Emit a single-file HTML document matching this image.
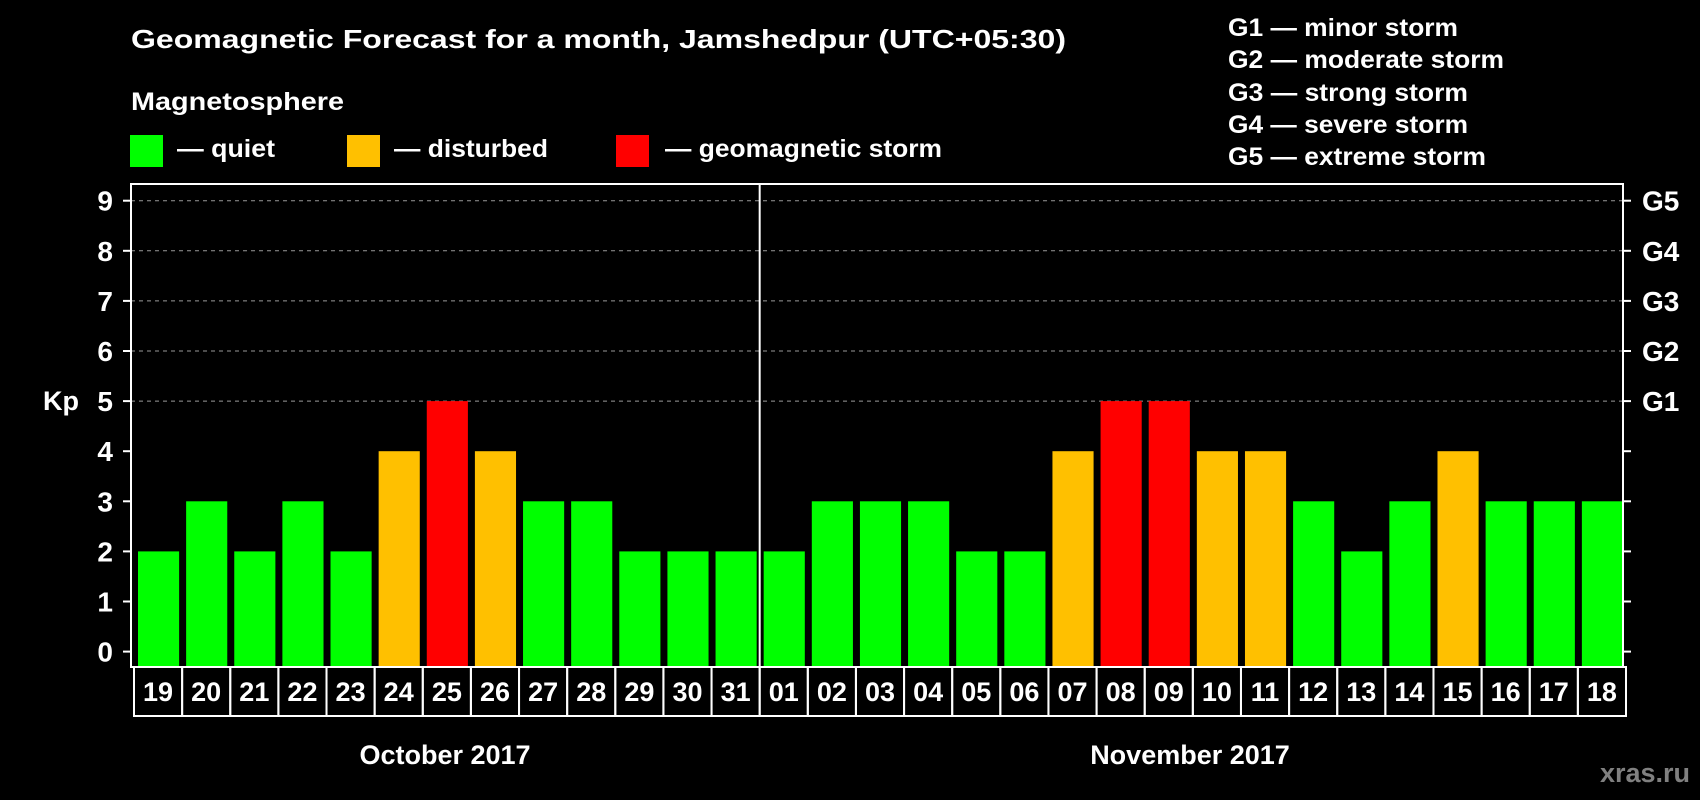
<!DOCTYPE html>
<html><head><meta charset="utf-8"><style>
html,body{margin:0;padding:0;background:#000;width:1700px;height:800px;overflow:hidden}
svg{display:block;font-family:"Liberation Sans",Arial,sans-serif;font-weight:bold}
</style></head><body>
<svg id="chart" width="1700" height="800" viewBox="0 0 1700 800" xmlns="http://www.w3.org/2000/svg">
<rect width="1700" height="800" fill="#000"/>
<text x="131" y="48" fill="#fff" font-size="26" textLength="935" lengthAdjust="spacingAndGlyphs">Geomagnetic Forecast for a month, Jamshedpur (UTC+05:30)</text>
<text x="131" y="110" fill="#fff" font-size="25" textLength="213" lengthAdjust="spacingAndGlyphs">Magnetosphere</text>
<g><rect x="130" y="135" width="33" height="32" fill="#00ff00"/><text x="177" y="157" fill="#fff" font-size="25" textLength="98" lengthAdjust="spacingAndGlyphs">— quiet</text></g>
<g><rect x="347" y="135" width="33" height="32" fill="#ffc000"/><text x="394" y="157" fill="#fff" font-size="25" textLength="154" lengthAdjust="spacingAndGlyphs">— disturbed</text></g>
<g><rect x="616" y="135" width="33" height="32" fill="#ff0000"/><text x="665" y="157" fill="#fff" font-size="25" textLength="277" lengthAdjust="spacingAndGlyphs">— geomagnetic storm</text></g>
<g fill="#fff" font-size="25">
<text x="1228" y="36" textLength="230" lengthAdjust="spacingAndGlyphs">G1 — minor storm</text>
<text x="1228" y="68" textLength="276" lengthAdjust="spacingAndGlyphs">G2 — moderate storm</text>
<text x="1228" y="101" textLength="240" lengthAdjust="spacingAndGlyphs">G3 — strong storm</text>
<text x="1228" y="133" textLength="240" lengthAdjust="spacingAndGlyphs">G4 — severe storm</text>
<text x="1228" y="165" textLength="258" lengthAdjust="spacingAndGlyphs">G5 — extreme storm</text>
</g>
<text x="43" y="410" fill="#fff" font-size="27">Kp</text>
<g id="grid"></g><g id="bars"></g><g id="axes"></g>
<text x="445" y="764" fill="#fff" font-size="27" text-anchor="middle">October 2017</text>
<text x="1190" y="764" fill="#fff" font-size="27" text-anchor="middle">November 2017</text>
<text x="1690" y="782" fill="#808080" font-size="27" text-anchor="end">xras.ru</text>
</svg>
<script>
const days = ["19","20","21","22","23","24","25","26","27","28","29","30","31","01","02","03","04","05","06","07","08","09","10","11","12","13","14","15","16","17","18"];
const kp = [2,3,2,3,2,4,5,4,3,3,2,2,2,2,3,3,3,2,2,4,5,5,4,4,3,2,3,4,3,3,3];
const yTicks = [0,1,2,3,4,5,6,7,8,9];
const gLabels = ["G1","G2","G3","G4","G5"];
const gLevels = [5,6,7,8,9];
const monthSplit = 13;

const NS="http://www.w3.org/2000/svg";
const L=131,R=1623,T=184,B=667;
const step=(R-L)/days.length;
const y=v=>651.6-v*50.1;
const x=i=>L+i*step;
function mk(tag,attrs,parent){const e=document.createElementNS(NS,tag);for(const k in attrs)e.setAttribute(k,attrs[k]);parent.appendChild(e);return e;}
const grid=document.getElementById('grid'),bars=document.getElementById('bars'),axes=document.getElementById('axes');
yTicks.forEach(v=>{
  if(v>=5){const g=mk('line',{x1:L,x2:R,y1:y(v),y2:y(v),stroke:'#999','stroke-dasharray':'4 4','stroke-width':1},grid);
  
  }
  const t1=mk('line',{x1:L-8,x2:L,y1:y(v),y2:y(v),stroke:'#fff','stroke-width':2},axes);
  
  
  const t2=mk('line',{x1:R,x2:R+8,y1:y(v),y2:y(v),stroke:'#fff','stroke-width':2},axes);
  
  
  const lb=mk('text',{x:L-18,y:y(v)+10,fill:'#fff','font-size':28,'text-anchor':'end'},axes);
  lb.textContent=v;
  
  
});
gLabels.forEach((g,i)=>{
  const lb=mk('text',{x:R+19,y:y(gLevels[i])+10,fill:'#fff','font-size':28},axes);
  lb.textContent=g;
  
  
});
const col=v=>v>=5?'#ff0000':v>=4?'#ffc000':'#00ff00';
kp.forEach((v,i)=>{
  const r=mk('rect',{x:x(i)+7,y:y(v),width:step-7,height:B-1-y(v),fill:col(v)},bars);
  
  
  const c=mk('rect',{x:x(i)+3,y:B,width:step,height:49,fill:'none',stroke:'#fff','stroke-width':2},axes);
  
  
  const t=mk('text',{x:x(i)+3+step/2,y:701,fill:'#fff','font-size':27,'text-anchor':'middle'},axes);
  t.textContent=days[i];
  
  
});
const fr=mk('rect',{x:L,y:T,width:R-L,height:B-T,fill:'none',stroke:'#fff','stroke-width':2},axes);


const d=mk('line',{x1:x(monthSplit)+3,x2:x(monthSplit)+3,y1:T,y2:B,stroke:'#fff','stroke-width':2},axes);


</script>
</body></html>
